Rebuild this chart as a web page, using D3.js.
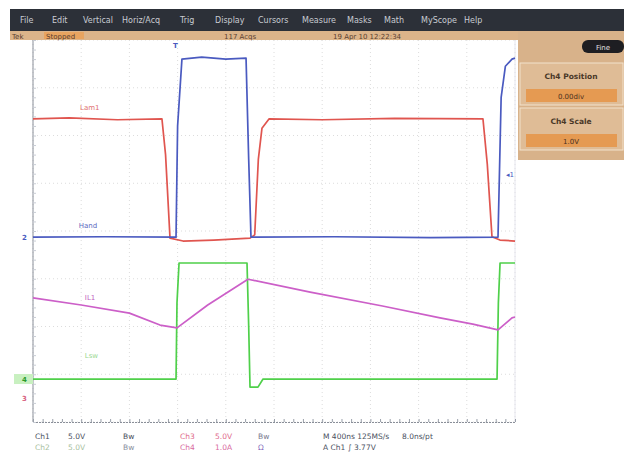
<!DOCTYPE html>
<html>
<head>
<meta charset="utf-8">
<script src="https://cdn.jsdelivr.net/npm/d3@7"></script>
<style>
  body { margin: 0; background: #fff; }
  text { font-family: "DejaVu Sans", sans-serif; }
</style>
</head>
<body>
<div id="container"></div>
<script>
/* CONSTANTS AND GLOBALS */
const width = 624,
  height = 456,
  margin = { top: 40, bottom: 34, left: 33, right: 109 }

// waveform data, time in ns, value in screen divisions
const ch1Time = [0, 300, 700, 1070, 1100, 1137, 1245, 1500, 1801, 1840, 1870, 1900, 1960, 2400, 3000, 3734, 3770, 3809, 3875, 4000];
const ch1Vals = [2.35, 2.37, 2.33, 2.35, 1.6, -0.15, -0.21, -0.19, -0.15, -0.08, 1.5, 2.15, 2.35, 2.33, 2.36, 2.35, 1.4, -0.12, -0.19, -0.21];

const ch2Time = [0, 600, 1187, 1200, 1236, 1400, 1600, 1768, 1790, 1809, 2500, 3300, 3859, 3885, 3920, 3975, 4000];
const ch2Vals = [-0.13, -0.12, -0.13, 2.2, 3.6, 3.64, 3.6, 3.62, 1.5, -0.13, -0.12, -0.14, -0.13, 2.8, 3.45, 3.6, 3.62];

const ch3Time = [0, 400, 800, 1054, 1195, 1450, 1784, 2300, 2900, 3378, 3650, 3859, 3975, 4000];
const ch3Vals = [-1.4, -1.55, -1.72, -1.97, -2.03, -1.55, -1.01, -1.28, -1.57, -1.82, -1.95, -2.07, -1.82, -1.8];

const ch4Time = [0, 600, 1187, 1195, 1212, 1500, 1776, 1790, 1801, 1867, 1909, 2600, 3851, 3862, 3876, 4000];
const ch4Vals = [-3.1, -3.1, -3.1, -1.5, -0.67, -0.67, -0.67, -2.0, -3.27, -3.27, -3.1, -3.1, -3.1, -1.5, -0.67, -0.67];

const menuItems = ["File", "Edit", "Vertical", "Horiz/Acq", "Trig", "Display", "Cursors", "Measure", "Masks", "Math", "MyScope", "Help"];
const menuX = [20, 52, 83, 122, 180, 215, 258, 302, 347, 384, 421, 464];

const traceLabels = ["Lam1", "Hand", "IL1", "Lsw"];
const readoutRow1 = ["Ch1", "5.0V", "Bw", "Ch3", "5.0V", "Bw", "M 400ns  125MS/s", "8.0ns/pt"];
const readoutRow2 = ["Ch2", "5.0V", "Bw", "Ch4", "1.0A", "Ω", "A  Ch1  ∫  3.77V", ""];
const readoutX = [35, 68, 123, 180, 215, 258, 323, 402];

/* SCALES */
const xScale = d3.scaleLinear()
  .domain([0, 4000])
  .range([margin.left, width - margin.right]);

const yScale = d3.scaleLinear()
  .domain([-4, 4])
  .range([height - margin.bottom, margin.top]);

const svg = d3.select("#container")
  .append("svg")
  .attr("width", width)
  .attr("height", height);

svg.append("rect").attr("width", width).attr("height", height).attr("fill", "#fff");

// graticule
svg.selectAll(".vgrid")
  .data(d3.range(0, 4001, 400))
  .join("line")
  .attr("x1", d => xScale(d)).attr("x2", d => xScale(d))
  .attr("y1", yScale(4)).attr("y2", yScale(-4))
  .attr("stroke", "#dcdcdc")
  .attr("stroke-dasharray", "1,3");

svg.selectAll(".hgrid")
  .data(d3.range(-4, 5, 1))
  .join("line")
  .attr("x1", xScale(0)).attr("x2", xScale(4000))
  .attr("y1", d => yScale(d)).attr("y2", d => yScale(d))
  .attr("stroke", "#dcdcdc")
  .attr("stroke-dasharray", "1,3");

// left edge and bottom edge with ticks
svg.append("line")
  .attr("x1", xScale(0)).attr("x2", xScale(0))
  .attr("y1", yScale(4)).attr("y2", yScale(-4))
  .attr("stroke", "#8a8f99");

svg.append("line")
  .attr("x1", xScale(4000)).attr("x2", xScale(4000))
  .attr("y1", yScale(4)).attr("y2", yScale(-4))
  .attr("stroke", "#e6e6ee");

const xAxis = d3.axisTop(xScale)
  .tickValues(d3.range(0, 4001, 80))
  .tickSize(3)
  .tickFormat("");

svg.append("g")
  .attr("transform", `translate(0,${yScale(-4)})`)
  .call(xAxis)
  .call(g => g.select(".domain").attr("stroke", "#8a8f99").attr("stroke-dasharray", "2,1"))
  .call(g => g.selectAll(".tick line").attr("stroke", "#9aa0aa"));

const yAxis = d3.axisRight(yScale)
  .tickValues(d3.range(-4, 4.01, 0.2))
  .tickSize(3)
  .tickFormat("");

svg.append("g")
  .attr("transform", `translate(${xScale(0)},0)`)
  .call(yAxis)
  .call(g => g.select(".domain").remove())
  .call(g => g.selectAll(".tick line").attr("stroke", "#c8ccd4"));

/* TRACES */
const traces = [
  { t: ch1Time, v: ch1Vals, color: "#e0554f" },
  { t: ch4Time, v: ch4Vals, color: "#4fd04a" },
  { t: ch3Time, v: ch3Vals, color: "#cc5fc8" },
  { t: ch2Time, v: ch2Vals, color: "#4a5ac0" }
];

const lineGen = d3.line()
  .x(d => xScale(d[0]))
  .y(d => yScale(d[1]));

svg.selectAll(".trace")
  .data(traces)
  .join("path")
  .attr("class", "trace")
  .attr("fill", "none")
  .attr("stroke", d => d.color)
  .attr("stroke-width", 1.7)
  .attr("stroke-linejoin", "round")
  .attr("d", d => lineGen(d.t.map((t, i) => [t, d.v[i]])));

// trace labels
const labelPos = [[390, 2.53, "#e07070"], [380, 0.06, "#5a68c0"], [430, -1.44, "#c060c0"], [430, -2.66, "#9ad890"]];
svg.selectAll(".tlabel")
  .data(traceLabels)
  .join("text")
  .attr("x", (d, i) => xScale(labelPos[i][0]))
  .attr("y", (d, i) => yScale(labelPos[i][1]))
  .attr("font-size", 7)
  .attr("fill", (d, i) => labelPos[i][2])
  .text(d => d);

// ground markers on the left
svg.append("rect")
  .attr("x", 14).attr("y", yScale(-3.1) - 5).attr("width", 19).attr("height", 10)
  .attr("fill", "#c8f0c0");

const markers = [["2", -0.13, "#4a5ac0"], ["4", -3.1, "#2a9a2a"], ["3", -3.5, "#d86080"]];
markers.forEach(m => {
  svg.append("text")
    .attr("x", 22).attr("y", yScale(m[1]) + 3)
    .attr("font-size", 7).attr("font-weight", "bold")
    .attr("fill", m[2])
    .text(m[0]);
});

// trigger position and level markers
svg.append("text")
  .attr("x", xScale(1187) - 3).attr("y", yScale(4) + 8)
  .attr("font-size", 7).attr("font-weight", "bold").attr("fill", "#4a5ac0")
  .text("T");
svg.append("text")
  .attr("x", xScale(4000) - 9).attr("y", yScale(1.2) + 3)
  .attr("font-size", 7).attr("fill", "#4a5ac0")
  .text("◂1");

/* MENU BAR AND STATUS */
svg.append("rect")
  .attr("x", 10).attr("y", 9).attr("width", width - 10).attr("height", 22)
  .attr("fill", "#2c3038");

svg.selectAll(".menu")
  .data(menuItems)
  .join("text")
  .attr("x", (d, i) => menuX[i])
  .attr("y", 23)
  .attr("font-size", 8)
  .attr("fill", "#c9ccd2")
  .text(d => d);

svg.append("rect")
  .attr("x", 10).attr("y", 31).attr("width", width - 10).attr("height", 9)
  .attr("fill", "#dcb48a");

svg.append("rect")
  .attr("x", 44).attr("y", 32).attr("width", 40).attr("height", 7)
  .attr("fill", "#e8a460");

const statusText = [[12, "Tek"], [46, "Stopped"], [224, "117 Acqs"], [333, "19 Apr 10  12:22:34"]];
svg.selectAll(".status")
  .data(statusText)
  .join("text")
  .attr("x", d => d[0]).attr("y", 38.5)
  .attr("font-size", 7)
  .attr("fill", "#5a4030")
  .text(d => d[1]);

// side panel
svg.append("rect")
  .attr("x", 518).attr("y", 31).attr("width", 106).attr("height", 129)
  .attr("fill", "#d8b28a");

svg.append("rect")
  .attr("x", 582).attr("y", 40).attr("width", 42).attr("height", 13).attr("rx", 6)
  .attr("fill", "#1e1e22");
svg.append("text")
  .attr("x", 603).attr("y", 49.5).attr("text-anchor", "middle")
  .attr("font-size", 7).attr("fill", "#e0e0e0")
  .text("Fine");

const panels = [[63, "Ch4 Position", "0.00div"], [108, "Ch4 Scale", "1.0V"]];
panels.forEach(p => {
  svg.append("rect")
    .attr("x", 520).attr("y", p[0]).attr("width", 103).attr("height", 42)
    .attr("fill", "#dfbc96").attr("stroke", "#f2e2cc");
  svg.append("rect")
    .attr("x", 526).attr("y", p[0] + 26).attr("width", 91).attr("height", 13)
    .attr("fill", "#e59a52");
  svg.append("text")
    .attr("x", 571).attr("y", p[0] + 16).attr("text-anchor", "middle")
    .attr("font-size", 7.5).attr("font-weight", "bold").attr("fill", "#4a3828")
    .text(p[1]);
  svg.append("text")
    .attr("x", 571).attr("y", p[0] + 35.5).attr("text-anchor", "middle")
    .attr("font-size", 7).attr("fill", "#4a3020")
    .text(p[2]);
});

/* READOUT */
const row1Colors = ["#4a5060", "#4a5060", "#4a5060", "#e06a8a", "#e06a8a", "#7a7a90", "#4a5060", "#4a5060"];
const row2Colors = ["#a8c0a0", "#a8c0a0", "#8a90a0", "#d86aa0", "#d86aa0", "#8a70c0", "#4a5060", "#4a5060"];

svg.selectAll(".row1")
  .data(readoutRow1)
  .join("text")
  .attr("x", (d, i) => readoutX[i]).attr("y", 439)
  .attr("font-size", 7.5)
  .attr("fill", (d, i) => row1Colors[i])
  .text(d => d);

svg.selectAll(".row2")
  .data(readoutRow2)
  .join("text")
  .attr("x", (d, i) => readoutX[i]).attr("y", 450)
  .attr("font-size", 7.5)
  .attr("fill", (d, i) => row2Colors[i])
  .text(d => d);
</script>
</body>
</html>
